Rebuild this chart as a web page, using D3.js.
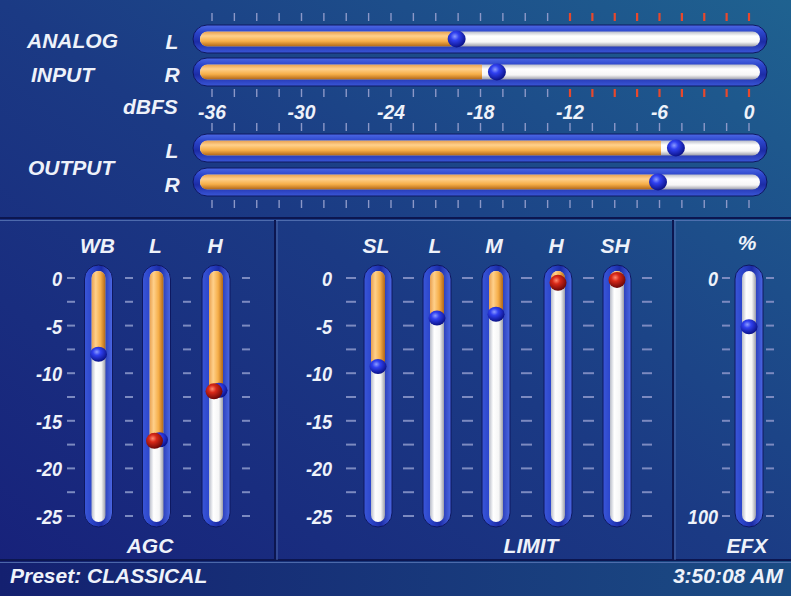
<!DOCTYPE html>
<html>
<head>
<meta charset="utf-8">
<script src="https://cdn.jsdelivr.net/npm/d3@7"></script>
<style>
  html, body { margin: 0; padding: 0; background: #1a2a78; }
  svg { display: block; }
  text { font-family: "Liberation Sans", Arial, sans-serif; font-weight: bold; font-style: italic; fill: #eef2fa; }
</style>
</head>
<body>
<svg id="chart" width="791" height="596"></svg>
<script>
// Top meters (dBFS)
const dbTicks = [-36, -30, -24, -18, -12, -6, 0];
const inputChannels = ["L", "R"];
const inputLevel = [-20.0, -17.9];
const inputPeak = [-19.6, -16.9];
const outputChannels = ["L", "R"];
const outputLevel = [-5.9, -6.4];
const outputPeak = [-4.9, -6.1];

// Bottom meters (dB gain reduction)
const grTicks = [0, -5, -10, -15, -20, -25];
const agcBands = ["WB", "L", "H"];
const agcLevel = [-8.0, -17.0, -11.8];
const agcPeak = [-8.0, -17.0, -11.8];
const agcGate = [null, -17.0, -11.8];
const limitBands = ["SL", "L", "M", "H", "SH"];
const limitLevel = [-9.3, -4.2, -3.8, -0.4, 0];
const limitPeak = [-9.3, -4.2, -3.8, null, null];
const limitGate = [null, null, null, -0.4, -0.1];
const efxTicks = ["0", "100"];
const efxValue = 20.5;

const svg = d3.select("#chart");
const W = 791, H = 596;
const defs = svg.append("defs");

function linGrad(id, vertical, stops) {
    const g = defs.append("linearGradient").attr("id", id)
        .attr("x1", 0).attr("y1", 0)
        .attr("x2", vertical ? 0 : 1).attr("y2", vertical ? 1 : 0);
    stops.forEach(s => g.append("stop").attr("offset", s[0]).attr("stop-color", s[1]));
}
function radGrad(id, stops) {
    const g = defs.append("radialGradient").attr("id", id)
        .attr("cx", "40%").attr("cy", "35%").attr("r", "65%");
    stops.forEach(s => g.append("stop").attr("offset", s[0]).attr("stop-color", s[1]));
}

// background
const bg = defs.append("linearGradient").attr("id", "bg")
    .attr("x1", 0).attr("y1", 1).attr("x2", 1).attr("y2", 0);
bg.append("stop").attr("offset", 0).attr("stop-color", "#17207a");
bg.append("stop").attr("offset", 0.5).attr("stop-color", "#1b3a84");
bg.append("stop").attr("offset", 1).attr("stop-color", "#1f6290");
linGrad("foot", false, [[0, "#142070"], [1, "#1b4c84"]]);

// tube parts, horizontal (gradient runs top -> bottom)
linGrad("rimH", true, [[0, "#4c68e4"], [0.25, "#2c46cc"], [0.6, "#1c2ca6"], [1, "#3a56d6"]]);
linGrad("whiteH", true, [[0, "#b8bcc8"], [0.3, "#ffffff"], [0.7, "#f6f6f6"], [1, "#9a9ca8"]]);
linGrad("orangeH", true, [[0, "#e8a050"], [0.3, "#ffd08a"], [0.65, "#f6ae48"], [1, "#b06618"]]);
// vertical tubes (gradient runs left -> right)
linGrad("rimV", false, [[0, "#3a56d6"], [0.25, "#2c46cc"], [0.6, "#1c2ca6"], [1, "#4c68e4"]]);
linGrad("whiteV", false, [[0, "#b8bcc8"], [0.3, "#ffffff"], [0.7, "#f6f6f6"], [1, "#9a9ca8"]]);
linGrad("orangeV", false, [[0, "#e8a050"], [0.3, "#ffd08a"], [0.65, "#f6ae48"], [1, "#b06618"]]);
radGrad("blueBall", [[0, "#8c9cff"], [0.35, "#3040f0"], [1, "#0a1288"]]);
radGrad("redBall", [[0, "#ff8a70"], [0.35, "#d82818"], [1, "#6a0808"]]);

svg.append("rect").attr("width", W).attr("height", H).attr("fill", "url(#bg)");
svg.append("rect").attr("y", 561).attr("width", W).attr("height", H - 561).attr("fill", "url(#foot)");

// panel dividers (dark + light bevel lines)
const bevel = (x1, y1, x2, y2, dx, dy) => {
    svg.append("line").attr("x1", x1).attr("y1", y1).attr("x2", x2).attr("y2", y2)
        .attr("stroke", "#0c1650").attr("stroke-width", 2);
    svg.append("line").attr("x1", x1 + dx).attr("y1", y1 + dy).attr("x2", x2 + dx).attr("y2", y2 + dy)
        .attr("stroke", "#5a78b8").attr("stroke-width", 1).attr("opacity", 0.8);
};
bevel(0, 218, W, 218, 0, 2.5);
bevel(0, 560, W, 560, 0, 2.5);
bevel(275, 220, 275, 560, 2, 0);
bevel(673, 220, 673, 560, 2, 0);

const label = (x, y, t, anchor, size, sx) => svg.append("text")
    .attr("transform", `translate(${x},${y}) scale(${sx || 1},1)`)
    .attr("text-anchor", anchor || "start")
    .attr("font-size", size || 21)
    .text(t);

/////////////////////////////////
// Horizontal meters
const x = d3.scaleLinear().domain([-36, 0]).range([212, 749]);
const hTube = { x0: 193, x1: 767, inX0: 200, inX1: 760 };
let clipId = 0;

function hMeter(cy, level, peak) {
    const g = svg.append("g");
    g.append("rect").attr("x", hTube.x0).attr("y", cy - 14)
        .attr("width", hTube.x1 - hTube.x0).attr("height", 28).attr("rx", 14)
        .attr("fill", "url(#rimH)").attr("stroke", "#0e1860").attr("stroke-width", 1);
    const id = "clip" + (clipId++);
    defs.append("clipPath").attr("id", id).append("rect")
        .attr("x", hTube.inX0).attr("y", cy - 7.5)
        .attr("width", hTube.inX1 - hTube.inX0).attr("height", 15).attr("rx", 7.5);
    g.append("rect").attr("x", hTube.inX0).attr("y", cy - 7.5)
        .attr("width", hTube.inX1 - hTube.inX0).attr("height", 15).attr("rx", 7.5)
        .attr("fill", "url(#whiteH)");
    g.append("rect").attr("clip-path", `url(#${id})`)
        .attr("x", hTube.inX0).attr("y", cy - 7.5)
        .attr("width", x(level) - hTube.inX0).attr("height", 15)
        .attr("fill", "url(#orangeH)");
    g.append("ellipse").attr("cx", x(peak)).attr("cy", cy)
        .attr("rx", 9).attr("ry", 8.5).attr("fill", "url(#blueBall)");
}

const inputY = [39, 72];
const outputY = [148, 182];
inputChannels.forEach((c, i) => hMeter(inputY[i], inputLevel[i], inputPeak[i]));
outputChannels.forEach((c, i) => hMeter(outputY[i], outputLevel[i], outputPeak[i]));

// tick rows
const minor = d3.range(-36, 0.01, 1.5);
[[13, true], [89, true], [123, false], [200, false]].forEach(([y0, red]) => {
    svg.append("g").selectAll("line").data(minor).join("line")
        .attr("x1", d => x(d)).attr("x2", d => x(d))
        .attr("y1", y0).attr("y2", y0 + 8)
        .attr("stroke", d => red && d >= -12 ? "#e8482c" : "#8c98c8")
        .attr("stroke-width", d => red && d >= -12 ? 2.2 : 1.4);
});

// axis labels
svg.append("g").selectAll("text").data(dbTicks).join("text")
    .attr("transform", d => `translate(${x(d)},119) scale(0.92,1)`)
    .attr("text-anchor", "middle").attr("font-size", 21)
    .text(d => d);

label(27, 48, "ANALOG");
label(31, 82, "INPUT");
label(28, 175, "OUTPUT");
label(123, 114, "dBFS");
inputChannels.forEach((c, i) => label(172, inputY[i] + 10, c, "middle"));
outputChannels.forEach((c, i) => label(172, outputY[i] + 10, c, "middle"));

/////////////////////////////////
// Vertical meters
const y = d3.scaleLinear().domain([0, -25]).range([278, 516]);
const vTube = { y0: 265, y1: 527, inY0: 271, inY1: 522 };
const minorV = d3.range(0, -25.01, -2.5);

function vMeter(cx, level, peak, gate) {
    const g = svg.append("g");
    g.append("rect").attr("x", cx - 14).attr("y", vTube.y0)
        .attr("width", 28).attr("height", vTube.y1 - vTube.y0).attr("rx", 14)
        .attr("fill", "url(#rimV)").attr("stroke", "#0e1860").attr("stroke-width", 1);
    const id = "clip" + (clipId++);
    defs.append("clipPath").attr("id", id).append("rect")
        .attr("x", cx - 7).attr("y", vTube.inY0)
        .attr("width", 14).attr("height", vTube.inY1 - vTube.inY0).attr("rx", 7);
    g.append("rect").attr("x", cx - 7).attr("y", vTube.inY0)
        .attr("width", 14).attr("height", vTube.inY1 - vTube.inY0).attr("rx", 7)
        .attr("fill", "url(#whiteV)");
    if (level != null) {
        g.append("rect").attr("clip-path", `url(#${id})`)
            .attr("x", cx - 7).attr("y", vTube.inY0)
            .attr("width", 14).attr("height", Math.max(0, y(level) - vTube.inY0))
            .attr("fill", "url(#orangeV)");
    }
    if (peak != null) {
        g.append("ellipse").attr("cx", gate != null ? cx + 3 : cx).attr("cy", y(peak))
            .attr("rx", 8.5).attr("ry", 7.5).attr("fill", "url(#blueBall)");
    }
    if (gate != null) {
        g.append("ellipse").attr("cx", peak != null ? cx - 2 : cx).attr("cy", y(gate) + 1)
            .attr("rx", 8.5).attr("ry", 8).attr("fill", "url(#redBall)");
    }
}

function dashes(xs, scale, ticks) {
    xs.forEach(x0 => {
        svg.append("g").selectAll("line").data(ticks).join("line")
            .attr("x1", x0[0]).attr("x2", x0[1])
            .attr("y1", d => scale(d)).attr("y2", d => scale(d))
            .attr("stroke", "#7c8ac0").attr("stroke-width", 2);
    });
}

// AGC section
const agcX = [98.5, 156.5, 216];
dashes([[67, 75], [125, 133], [183, 191], [242, 250]], y, minorV);
agcBands.forEach((b, i) => {
    vMeter(agcX[i], agcLevel[i], agcPeak[i], agcGate[i]);
    label(agcX[i] - 1, 253, b, "middle");
});
svg.append("g").selectAll("text").data(grTicks).join("text")
    .attr("transform", d => `translate(62,${y(d) + 8}) scale(0.86,1)`)
    .attr("text-anchor", "end").attr("font-size", 21).text(d => d);
label(150, 553, "AGC", "middle");

// LIMIT section
const limitX = [378, 437, 496, 558, 617];
dashes([[346, 356], [403, 414], [462, 473], [521, 532], [583, 594], [642, 652]], y, minorV);
limitBands.forEach((b, i) => {
    vMeter(limitX[i], limitLevel[i], limitPeak[i], limitGate[i]);
    label(limitX[i] - 2, 253, b, "middle");
});
svg.append("g").selectAll("text").data(grTicks).join("text")
    .attr("transform", d => `translate(332,${y(d) + 8}) scale(0.86,1)`)
    .attr("text-anchor", "end").attr("font-size", 21).text(d => d);
label(531, 553, "LIMIT", "middle");

// EFX section
const ye = d3.scaleLinear().domain([0, 100]).range([278, 516]);
const efxX = 749;
dashes([[722, 730], [766, 774]], ye, d3.range(0, 100.1, 10));
vMeter(efxX, null, null, null);
svg.append("ellipse").attr("cx", efxX).attr("cy", ye(efxValue))
    .attr("rx", 8.5).attr("ry", 7.5).attr("fill", "url(#blueBall)");
label(718, ye(0) + 8, efxTicks[0], "end", 21, 0.86);
label(718, ye(100) + 8, efxTicks[1], "end", 21, 0.86);
label(747, 250, "%", "middle");
label(747, 553, "EFX", "middle");

// footer
label(10, 583, "Preset: CLASSICAL");
label(783, 583, "3:50:08 AM", "end");
</script>
</body>
</html>
